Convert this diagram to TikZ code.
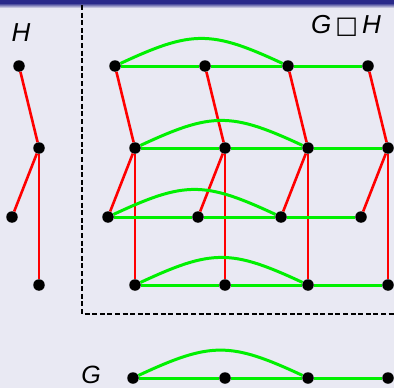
\documentclass[tikz,border=0pt]{standalone}
\usepackage{fontspec}
\setmainfont{Liberation Sans}
\newfontfamily\symfont{DejaVu Sans}
\definecolor{bgcol}{RGB}{233,233,243}
\definecolor{barblue}{RGB}{42,42,138}
\definecolor{gedge}{RGB}{0,240,0}
\definecolor{redge}{RGB}{255,0,0}
\begin{document}
\begin{tikzpicture}[x=1pt,y=-1pt,
  dot/.style={circle,fill=black,inner sep=0pt,minimum size=11.5pt},
  hedge/.style={draw=redge,line width=2.6pt},
  gline/.style={draw=gedge,line width=3pt},
  gcurve/.style={draw=gedge,line width=3pt,out=25,in=155,looseness=1.25},
  lab/.style={font=\fontsize{26}{26}\selectfont\itshape,inner sep=0pt},
  boxline/.style={draw=black,line width=2.4pt,dash pattern=on 5pt off 2.6pt}]
\fill[bgcol] (0,0) rectangle (394,388);
\useasboundingbox (0,0) rectangle (394,388);
\fill[barblue] (0,0) rectangle (394,3);
\shade[top color=barblue,bottom color=bgcol] (0,3) rectangle (394,8);

% dashed frame
\coordinate (fa) at (82,5);
\coordinate (fb) at (82,314);
\coordinate (fc) at (394,314);
\draw[boxline] (fa) -- (fb) -- (fc);

% labels
\node[lab] (lH) at (21,33) {H};
\node[lab,anchor=base east] (lGH) at (381,33) {G\hspace{4pt}{\fontsize{24}{24}\selectfont\upshape\symfont □}\hspace{4pt}H};
\node[lab,font=\fontsize{25}{25}\selectfont\itshape] (lG) at (91,375) {G};

% graph H
\node[dot] (h1) at (19,66) {};
\node[dot] (h2) at (39,148) {};
\node[dot] (h3) at (12,217) {};
\node[dot] (h4) at (39,285) {};
\draw[hedge] (h1) -- (h2);
\draw[hedge] (h2) -- (h3);
\draw[hedge] (h2) -- (h4);

% graph G
\node[dot] (g1) at (133,378) {};
\node[dot] (g2) at (225,378) {};
\node[dot] (g3) at (308,378) {};
\node[dot] (g4) at (388,378) {};
\draw[gline] (g1) -- (g2);
\draw[gline] (g2) -- (g3);
\draw[gline] (g3) -- (g4);
\draw[gcurve] (g1) to (g3);

% product
\foreach \r/\ox/\y in {1/-20/66, 2/0/148, 3/-27/217, 4/0/285} {
  \foreach \c/\x in {1/135, 2/225, 3/308, 4/388} {
    \node[dot] (p\r\c) at (\x+\ox,\y) {};
  }
}
\foreach \c in {1,2,3,4} {
  \draw[hedge] (p1\c) -- (p2\c);
  \draw[hedge] (p2\c) -- (p3\c);
  \draw[hedge] (p2\c) -- (p4\c);
}
\foreach \r in {1,2,3,4} {
  \draw[gline] (p\r1) -- (p\r2);
  \draw[gline] (p\r2) -- (p\r3);
  \draw[gline] (p\r3) -- (p\r4);
  \draw[gcurve] (p\r1) to (p\r3);
}
\end{tikzpicture}
\end{document}
